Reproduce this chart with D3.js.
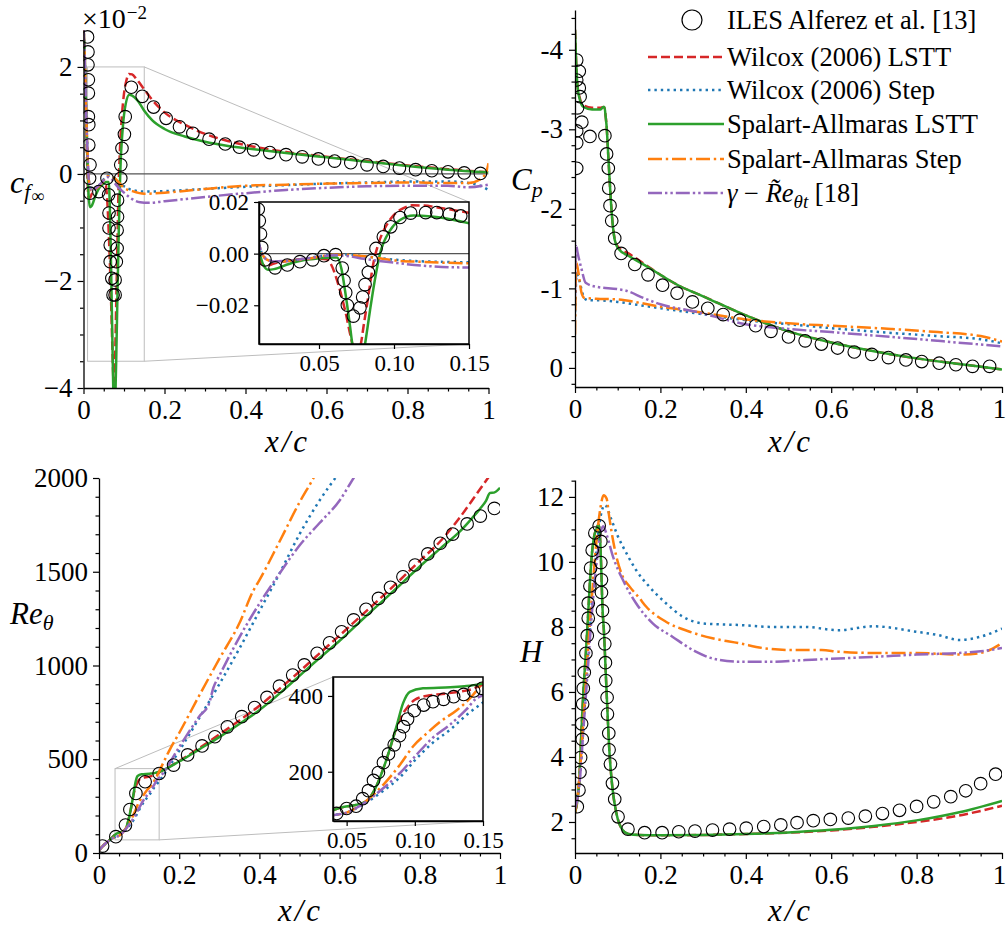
<!DOCTYPE html>
<html><head><meta charset="utf-8">
<script src="https://cdn.jsdelivr.net/npm/d3@7"></script>
<style>
body{margin:0;background:#fff;}
svg, svg text{font-family:"Liberation Serif","Times New Roman",serif;}
</style></head><body>
<svg id="c" width="1008" height="932"></svg>
<script>
// ---------------- DATA ----------------
const xTicks = [0, 0.2, 0.4, 0.6, 0.8, 1];
const cfTicks = [-4, -2, 0, 2];
const cpTicks = [-4, -3, -2, -1, 0];
const reTicks = [0, 500, 1000, 1500, 2000];
const hTicks = [2, 4, 6, 8, 10, 12];
const insetXTicks = [0.05, 0.10, 0.15];
const cfInsetTicks = [2, 0, -2];
const reInsetTicks = [200, 400];

const legendLabels = ["ILES Alferez et al. [13]", "Wilcox (2006) LSTT", "Wilcox (2006) Step",
  "Spalart-Allmaras LSTT", "Spalart-Allmaras Step", "γ − R̃e_θt [18]"];

// skin friction (x 1e-2)
const cfIlesMain = [[0.010,2.56],[0.011,2.28],[0.011,2.04],[0.012,1.76],[0.012,1.51],[0.012,1.07],[0.013,0.92],[0.013,0.54],[0.016,0.17],[0.015,-0.08],[0.016,-0.36],[0.038,-0.33],[0.058,-0.08],[0.062,-0.39],[0.063,-0.73],[0.063,-1.01],[0.066,-1.33],[0.066,-1.64],[0.070,-1.95],[0.073,-2.26],[0.078,-2.26],[0.078,-1.98],[0.081,-1.64],[0.083,-1.39],[0.083,-1.05],[0.084,-0.8],[0.084,-0.49],[0.092,-0.08],[0.092,0.17],[0.095,0.48],[0.101,0.74],[0.103,1.07],[0.118,1.62],[0.145,1.45],[0.173,1.25],[0.204,1.04],[0.237,0.88],[0.27,0.76],[0.31,0.65],[0.35,0.56],[0.385,0.5],[0.42,0.45],[0.46,0.4],[0.5,0.36],[0.54,0.32],[0.58,0.28],[0.62,0.24],[0.66,0.21],[0.7,0.17],[0.74,0.14],[0.78,0.11],[0.82,0.08],[0.86,0.06],[0.9,0.04],[0.94,0.02],[0.98,0.01]];
const cfIlesInset = [[0.0095,1.72],[0.0102,1.27],[0.011,0.76],[0.0118,0.24],[0.014,-0.24],[0.0207,-0.55],[0.0289,-0.44],[0.0373,-0.31],[0.0458,-0.24],[0.0533,-0.08],[0.0611,-0.04],[0.0655,-0.56],[0.0667,-1.04],[0.0678,-1.51],[0.0689,-2.0],[0.0729,-2.42],[0.0773,-2.1],[0.0791,-1.68],[0.0807,-1.2],[0.0829,-0.72],[0.0851,-0.27],[0.088,0.2],[0.0929,0.65],[0.0978,1.04],[0.104,1.4],[0.1111,1.57],[0.1211,1.59],[0.1285,1.59],[0.1369,1.53],[0.1445,1.46]];
const cfWilcoxLSTT = [[0,2.75],[0.003,2.2],[0.006,1.2],[0.009,0.2],[0.011,-0.3],[0.013,-0.45],[0.016,-0.45],[0.02,-0.38],[0.03,-0.28],[0.04,-0.21],[0.05,-0.2],[0.055,-0.22],[0.057,-0.32],[0.0633,-1.28],[0.0678,-2.3],[0.0711,-3.2],[0.0745,-3.9],[0.0775,-3.6],[0.08,-2.7],[0.083,-1.6],[0.086,-0.45],[0.09,0.45],[0.095,1.1],[0.1,1.5],[0.106,1.75],[0.112,1.87],[0.12,1.86],[0.13,1.78],[0.15,1.58],[0.17,1.38],[0.2,1.15],[0.25,0.92],[0.3,0.75],[0.35,0.63],[0.4,0.54],[0.5,0.41],[0.6,0.32],[0.7,0.24],[0.8,0.16],[0.9,0.09],[1.0,0.03]];
const cfWilcoxStep = [[0,2.75],[0.003,2.2],[0.006,1.3],[0.009,0.6],[0.012,0.0],[0.015,-0.2],[0.02,-0.3],[0.03,-0.28],[0.04,-0.2],[0.05,-0.1],[0.06,-0.03],[0.07,-0.04],[0.08,-0.1],[0.09,-0.17],[0.1,-0.23],[0.12,-0.3],[0.15,-0.33],[0.2,-0.32],[0.3,-0.28],[0.4,-0.24],[0.5,-0.21],[0.6,-0.18],[0.7,-0.16],[0.8,-0.14],[0.9,-0.14],[0.95,-0.17],[0.98,-0.22],[1.0,-0.3]];
const cfSALSTT = [[0,2.75],[0.003,2.2],[0.006,1.3],[0.009,0.4],[0.011,-0.1],[0.013,-0.45],[0.016,-0.62],[0.02,-0.6],[0.03,-0.4],[0.04,-0.25],[0.05,-0.18],[0.057,-0.15],[0.062,-0.15],[0.065,-0.6],[0.0673,-1.41],[0.0707,-2.82],[0.0722,-3.5],[0.075,-4.4],[0.0775,-4.5],[0.0795,-3.9],[0.0807,-3.5],[0.084,-2.2],[0.087,-1.1],[0.0907,0],[0.0973,0.89],[0.104,1.3],[0.113,1.48],[0.125,1.44],[0.135,1.36],[0.15,1.18],[0.17,1.0],[0.2,0.84],[0.25,0.7],[0.3,0.6],[0.35,0.53],[0.4,0.48],[0.5,0.39],[0.6,0.31],[0.7,0.23],[0.8,0.15],[0.9,0.08],[1.0,0.03]];
const cfSAStep = [[0,2.75],[0.003,2.2],[0.006,1.3],[0.009,0.6],[0.012,0.0],[0.015,-0.22],[0.02,-0.31],[0.03,-0.28],[0.04,-0.22],[0.05,-0.12],[0.06,-0.04],[0.07,-0.05],[0.08,-0.1],[0.09,-0.18],[0.1,-0.26],[0.12,-0.32],[0.15,-0.37],[0.2,-0.35],[0.3,-0.28],[0.4,-0.22],[0.5,-0.2],[0.6,-0.18],[0.7,-0.17],[0.8,-0.16],[0.9,-0.17],[0.95,-0.17],[0.98,-0.1],[0.995,0.05],[1.0,0.2]];
const cfGammaRe = [[0,2.75],[0.003,2.2],[0.006,1.3],[0.009,0.6],[0.012,0.0],[0.015,-0.22],[0.02,-0.3],[0.03,-0.27],[0.04,-0.2],[0.05,-0.12],[0.06,-0.06],[0.07,-0.1],[0.08,-0.2],[0.09,-0.28],[0.1,-0.35],[0.12,-0.47],[0.14,-0.53],[0.16,-0.54],[0.2,-0.51],[0.3,-0.43],[0.4,-0.36],[0.5,-0.3],[0.6,-0.26],[0.7,-0.23],[0.8,-0.22],[0.9,-0.22],[0.95,-0.25],[1.0,-0.2]];

// pressure coefficient
const cpIles = [[0.004,-3.87],[0.01,-3.73],[0.004,-3.62],[0.01,-3.52],[0.012,-3.41],[0.006,-3.27],[0.016,-3.09],[0.004,-2.98],[0.004,-2.83],[0.004,-2.51],[0.035,-2.91],[0.07,-2.92],[0.074,-2.69],[0.078,-2.51],[0.079,-2.26],[0.082,-2.04],[0.086,-1.85],[0.093,-1.63],[0.108,-1.44],[0.14,-1.3],[0.171,-1.17],[0.205,-1.04],[0.239,-0.94],[0.275,-0.83],[0.311,-0.75],[0.347,-0.67],[0.386,-0.6],[0.423,-0.53],[0.459,-0.46],[0.5,-0.39],[0.539,-0.34],[0.577,-0.3],[0.615,-0.25],[0.654,-0.2],[0.695,-0.17],[0.734,-0.13],[0.775,-0.1],[0.812,-0.08],[0.853,-0.06],[0.892,-0.04],[0.931,-0.02],[0.971,-0.02]];
const cpWilcoxLSTT = [[0,-4.25],[0.002,-3.95],[0.005,-3.6],[0.01,-3.42],[0.02,-3.3],[0.04,-3.27],[0.06,-3.27],[0.066,-3.28],[0.069,-3.27],[0.072,-3.15],[0.074,-3.04],[0.078,-2.66],[0.082,-2.28],[0.086,-1.95],[0.093,-1.62],[0.101,-1.52],[0.128,-1.43],[0.167,-1.29],[0.206,-1.15],[0.245,-1.03],[0.3,-0.9],[0.4,-0.66],[0.5,-0.46],[0.6,-0.32],[0.7,-0.21],[0.8,-0.12],[0.9,-0.05],[1.0,0.02]];
const cpWilcoxStep = [[0,-0.7],[0.004,-1.18],[0.01,-1.1],[0.02,-0.9],[0.03,-0.85],[0.05,-0.85],[0.1,-0.83],[0.15,-0.79],[0.2,-0.75],[0.28,-0.69],[0.4,-0.6],[0.5,-0.55],[0.6,-0.5],[0.74,-0.44],[0.85,-0.4],[0.95,-0.36],[1.0,-0.31]];
const cpSALSTT = [[0,-4.25],[0.002,-3.95],[0.005,-3.6],[0.01,-3.4],[0.02,-3.28],[0.04,-3.25],[0.06,-3.25],[0.066,-3.28],[0.069,-3.28],[0.072,-3.15],[0.074,-3.04],[0.078,-2.66],[0.082,-2.28],[0.086,-1.95],[0.093,-1.61],[0.101,-1.5],[0.128,-1.4],[0.167,-1.28],[0.206,-1.15],[0.245,-1.03],[0.3,-0.9],[0.4,-0.66],[0.5,-0.46],[0.6,-0.32],[0.7,-0.21],[0.8,-0.12],[0.9,-0.05],[1.0,0.02]];
const cpSAStep = [[0,-0.42],[0.003,-1.33],[0.008,-1.2],[0.015,-0.95],[0.022,-0.88],[0.05,-0.87],[0.1,-0.86],[0.15,-0.82],[0.2,-0.77],[0.28,-0.71],[0.4,-0.61],[0.5,-0.56],[0.6,-0.53],[0.74,-0.49],[0.85,-0.45],[0.95,-0.4],[1.0,-0.33]];
const cpGammaRe = [[0,-0.9],[0.002,-1.56],[0.006,-1.45],[0.015,-1.25],[0.025,-1.07],[0.05,-1.02],[0.1,-0.99],[0.12,-0.97],[0.16,-0.88],[0.2,-0.8],[0.28,-0.71],[0.4,-0.55],[0.5,-0.49],[0.6,-0.45],[0.74,-0.39],[0.85,-0.34],[1.0,-0.27]];

// momentum-thickness Reynolds number
const reIlesMain = [[0.009,37],[0.042,87],[0.066,149],[0.077,232],[0.092,318],[0.115,380],[0.15,424],[0.186,469],[0.221,523],[0.257,571],[0.289,620],[0.32,673],[0.356,727],[0.388,776],[0.419,830],[0.45,890],[0.483,949],[0.512,1003],[0.544,1065],[0.575,1121],[0.605,1180],[0.635,1243],[0.666,1300],[0.697,1358],[0.727,1417],[0.758,1473],[0.788,1536],[0.82,1595],[0.851,1652],[0.882,1701],[0.918,1755],[0.951,1797],[0.986,1838]];
const reIlesInset = [[0.0427,90],[0.05,103],[0.0569,109],[0.0618,129],[0.066,150],[0.0697,177],[0.0733,198],[0.077,224],[0.0807,247],[0.0849,271],[0.0888,295],[0.0917,319],[0.0947,339],[0.0996,361],[0.1065,376],[0.1133,385],[0.1211,391],[0.1285,398],[0.1358,404],[0.1432,413],[0.1494,420]];
const reWilcoxLSTT = [[0,15],[0.01,38],[0.02,57],[0.03,76],[0.04,98],[0.0645,122],[0.0706,153],[0.0792,232],[0.0865,315],[0.09,345],[0.095,372],[0.1,390],[0.11,401],[0.12,405],[0.13,410],[0.14,416],[0.15,430],[0.2,490],[0.25,560],[0.3,632],[0.35,707],[0.4,785],[0.45,875],[0.5,968],[0.55,1065],[0.6,1160],[0.65,1258],[0.7,1355],[0.75,1455],[0.8,1558],[0.85,1660],[0.9,1790],[0.95,1940],[1.0,2090]];
const reWilcoxStep = [[0,15],[0.01,38],[0.02,57],[0.03,73],[0.04,85],[0.05,92],[0.064,118],[0.077,150],[0.089,185],[0.1,230],[0.113,276],[0.126,311],[0.138,350],[0.15,383],[0.2,545],[0.25,720],[0.3,900],[0.35,1090],[0.4,1290],[0.45,1490],[0.5,1700],[0.55,1880],[0.6,2030]];
const reSALSTT = [[0,15],[0.01,38],[0.02,57],[0.03,76],[0.04,98],[0.0645,122],[0.0706,153],[0.0792,232],[0.0865,319],[0.0914,381],[0.0963,411],[0.106,420],[0.126,423],[0.138,426],[0.15,433],[0.2,488],[0.25,553],[0.3,618],[0.35,688],[0.4,762],[0.45,850],[0.5,945],[0.55,1040],[0.6,1132],[0.65,1232],[0.7,1330],[0.75,1428],[0.8,1528],[0.85,1622],[0.9,1715],[0.93,1785],[0.95,1835],[0.965,1878],[0.975,1920],[0.985,1922],[1.0,1948]];
const reSAStep = [[0,15],[0.01,38],[0.02,57],[0.03,73],[0.04,85],[0.05,92],[0.064,122],[0.077,166],[0.089,218],[0.099,268],[0.109,302],[0.119,333],[0.131,363],[0.14,392],[0.15,435],[0.175,545],[0.2,640],[0.25,840],[0.3,1035],[0.35,1225],[0.385,1400],[0.4,1455],[0.45,1660],[0.5,1870],[0.535,2000],[0.55,2060]];
const reGammaRe = [[0,15],[0.01,38],[0.02,57],[0.03,73],[0.04,85],[0.05,92],[0.064,120],[0.077,157],[0.089,196],[0.1,240],[0.113,289],[0.126,325],[0.138,365],[0.145,393],[0.15,402],[0.2,565],[0.25,728],[0.275,800],[0.285,880],[0.3,945],[0.35,1150],[0.4,1330],[0.45,1490],[0.5,1640],[0.55,1760],[0.6,1880],[0.635,2000],[0.65,2050]];

// shape factor
const hIles = [[0.0054,2.47],[0.0093,2.98],[0.0116,3.53],[0.0132,3.98],[0.017,4.54],[0.0155,5.02],[0.0179,5.63],[0.0194,6.11],[0.0217,6.6],[0.0256,7.19],[0.0287,7.73],[0.031,8.27],[0.031,8.73],[0.0349,9.26],[0.0365,9.81],[0.0403,10.36],[0.0465,10.89],[0.0566,11.11],[0.0605,10.63],[0.0605,9.98],[0.062,9.45],[0.062,9.06],[0.0644,8.5],[0.0674,7.96],[0.0698,7.48],[0.0713,6.9],[0.072,6.35],[0.0752,5.83],[0.076,5.32],[0.0791,4.73],[0.0798,4.22],[0.083,3.78],[0.0877,3.19],[0.093,2.7],[0.1008,2.16],[0.124,1.78],[0.163,1.67],[0.204,1.67],[0.243,1.7],[0.281,1.72],[0.322,1.75],[0.362,1.78],[0.401,1.81],[0.442,1.86],[0.482,1.91],[0.52,1.98],[0.558,2.04],[0.598,2.08],[0.64,2.12],[0.68,2.18],[0.72,2.26],[0.76,2.36],[0.8,2.48],[0.84,2.62],[0.88,2.78],[0.915,2.96],[0.95,3.18],[0.985,3.47]];
const hWilcoxLSTT = [[0,2.3],[0.005,2.6],[0.01,3.3],[0.015,4.8],[0.02,6.1],[0.025,7.1],[0.03,8.2],[0.035,9.4],[0.04,10.3],[0.045,10.8],[0.05,11.0],[0.055,11.15],[0.058,10.9],[0.061,10.0],[0.064,8.7],[0.068,7.8],[0.072,6.6],[0.076,5.4],[0.08,4.3],[0.085,3.4],[0.09,2.8],[0.095,2.4],[0.1,2.1],[0.11,1.78],[0.125,1.63],[0.15,1.6],[0.2,1.59],[0.3,1.6],[0.4,1.63],[0.5,1.67],[0.6,1.74],[0.7,1.85],[0.8,2.0],[0.9,2.2],[1.0,2.5]];
const hWilcoxStep = [[0,2.4],[0.01,3.2],[0.02,5.0],[0.03,7.0],[0.04,8.8],[0.05,10.3],[0.06,11.4],[0.07,11.75],[0.085,11.31],[0.1,10.8],[0.12,10.28],[0.143,9.75],[0.174,9.24],[0.213,8.73],[0.252,8.32],[0.306,8.1],[0.384,8.06],[0.461,8.0],[0.539,8.0],[0.616,7.9],[0.7,8.02],[0.8,7.85],[0.85,7.75],[0.9,7.6],[0.95,7.7],[1.0,7.95]];
const hSALSTT = [[0,2.3],[0.005,2.6],[0.01,3.3],[0.015,4.8],[0.02,6.1],[0.025,7.1],[0.03,8.2],[0.035,9.4],[0.04,10.3],[0.045,10.8],[0.05,11.0],[0.055,11.15],[0.058,10.9],[0.061,10.0],[0.064,8.7],[0.068,7.8],[0.072,6.6],[0.076,5.4],[0.08,4.3],[0.085,3.4],[0.09,2.8],[0.095,2.4],[0.1,2.1],[0.11,1.78],[0.125,1.63],[0.15,1.6],[0.2,1.59],[0.3,1.6],[0.4,1.63],[0.5,1.68],[0.6,1.76],[0.7,1.88],[0.8,2.05],[0.9,2.3],[1.0,2.65]];
const hSAStep = [[0,2.3],[0.005,2.7],[0.01,3.3],[0.02,5.2],[0.03,7.2],[0.04,9.0],[0.05,10.6],[0.06,11.7],[0.067,12.05],[0.074,11.95],[0.08,11.4],[0.09,10.6],[0.097,10.16],[0.11,9.6],[0.128,9.24],[0.15,8.9],[0.167,8.62],[0.213,8.16],[0.267,7.86],[0.322,7.65],[0.384,7.5],[0.446,7.34],[0.508,7.29],[0.578,7.29],[0.616,7.24],[0.7,7.2],[0.8,7.2],[0.9,7.15],[0.95,7.2],[1.0,7.5]];
const hGammaRe = [[0,2.4],[0.01,3.1],[0.02,4.9],[0.03,6.7],[0.04,8.5],[0.05,9.9],[0.06,10.9],[0.066,11.1],[0.075,10.8],[0.089,10.16],[0.112,9.45],[0.143,8.73],[0.182,8.11],[0.228,7.7],[0.283,7.24],[0.322,7.03],[0.384,6.93],[0.461,6.93],[0.539,6.98],[0.616,7.03],[0.7,7.08],[0.8,7.15],[0.9,7.2],[0.95,7.25],[1.0,7.35]];

// ---------------- STYLES ----------------
const FONT = '"Liberation Serif", "Times New Roman", serif';
const SER = {
  wL:  {c:"#d62728", d:"9,4"},
  wS:  {c:"#1f77b4", d:"2.4,4"},
  saL: {c:"#2ca02c", d:null},
  saS: {c:"#ff7f0e", d:"14,3.8,2.4,3.8"},
  gR:  {c:"#9467bd", d:"14,3,2.4,3,2.4,3"}
};
const LW = 2.5, MR = 6.3, TFS = 27;

const svg = d3.select("#c");
const defs = svg.append("defs");
function clip(id, xs, ys){
  const [x0,x1] = d3.extent(xs.range()), [y0,y1] = d3.extent(ys.range());
  defs.append("clipPath").attr("id",id).append("rect").attr("x",x0).attr("y",y0).attr("width",x1-x0).attr("height",y1-y0);
  return `url(#${id})`;
}
function models(g, xs, ys, sets){
  const line = d3.line().x(d=>xs(d[0])).y(d=>ys(d[1])).curve(d3.curveMonotoneX);
  sets.forEach(([data,key])=>{
    const s = SER[key];
    g.append("path").datum(data).attr("d",line).attr("fill","none").attr("stroke",s.c)
      .attr("stroke-width",LW).attr("stroke-dasharray",s.d);
  });
}
function circles(g, xs, ys, data){
  g.selectAll(null).data(data).join("circle").attr("cx",d=>xs(d[0])).attr("cy",d=>ys(d[1]))
    .attr("r",MR).attr("fill","none").attr("stroke","#000").attr("stroke-width",1.1);
}
function styleAxis(sel, fs, sw){
  sel.attr("font-size",null).attr("font-family",FONT);
  sel.selectAll(".domain").attr("stroke","#000").attr("stroke-width",sw);
  sel.selectAll(".tick line").attr("stroke","#000").attr("stroke-width",1.2);
  sel.selectAll(".tick text").attr("font-size",fs).attr("fill","#000").attr("font-family",FONT);
}
function axes(g, xs, ys, o){
  const yb = d3.max(ys.range()), xl = d3.min(xs.range());
  const fs = o.fs || TFS, tl = o.tl || 6, tm = 3.5, sw = o.sw || 1.3;
  if (o.xMin) g.append("g").attr("transform",`translate(0,${yb})`)
      .call(d3.axisBottom(xs).tickValues(o.xMin).tickFormat("").tickSize(tm).tickSizeOuter(0))
      .call(s=>styleAxis(s,fs,sw)).select(".domain").remove();
  const gx = g.append("g").attr("transform",`translate(0,${yb})`)
      .call(d3.axisBottom(xs).tickValues(o.xMaj).tickFormat(o.xFmt).tickSize(tl).tickSizeOuter(0).tickPadding(o.xPad||6))
      .call(s=>styleAxis(s,fs,sw));
  if (o.lastDx) gx.selectAll(".tick text").filter(d=>d===1).attr("dx",o.lastDx);
  if (o.yMin) g.append("g").attr("transform",`translate(${xl},0)`)
      .call(d3.axisLeft(ys).tickValues(o.yMin).tickFormat("").tickSize(tm).tickSizeOuter(0))
      .call(s=>styleAxis(s,fs,sw)).select(".domain").remove();
  g.append("g").attr("transform",`translate(${xl},0)`)
      .call(d3.axisLeft(ys).tickValues(o.yMaj).tickFormat(o.yFmt).tickSize(tl).tickSizeOuter(0).tickPadding(o.yPad||5))
      .call(s=>styleAxis(s,fs,sw));
}
const fmtX = d => d===0 ? "0" : d===1 ? "1" : d.toFixed(1);
const fmtMinus = d => d<0 ? "\u2212"+(-d) : String(d);
const minor = (a,b,step,maj) => d3.range(Math.round(a/step), Math.round(b/step)+1).map(i=>+(i*step).toFixed(6)).filter(v=>!maj.some(m=>Math.abs(m-v)<1e-9));

function xcLabel(cx, y){
  const t = svg.append("text").attr("x",cx).attr("y",y).attr("text-anchor","middle")
    .attr("font-size",31).attr("font-style","italic").attr("font-family",FONT);
  t.append("tspan").text("x");
  t.append("tspan").attr("dx",3).text("/");
  t.append("tspan").attr("dx",3).text("c");
}
function zoomBox(g, xs, ys, x0,x1,y0,y1){
  g.append("rect").attr("x",xs(x0)).attr("y",ys(y1)).attr("width",xs(x1)-xs(x0)).attr("height",ys(y0)-ys(y1))
    .attr("fill","none").attr("stroke","#bdbdbd").attr("stroke-width",1);
}
function connector(g, p, q){
  g.append("line").attr("x1",p[0]).attr("y1",p[1]).attr("x2",q[0]).attr("y2",q[1]).attr("stroke","#bdbdbd").attr("stroke-width",1);
}

// ---------------- PANEL 1: cf ----------------
{
  const xs = d3.scaleLinear().domain([0,1]).range([83.5,488.5]);
  const ys = d3.scaleLinear().domain([-4,2.69]).range([388,30]);
  const g = svg.append("g");
  zoomBox(g, xs, ys, 0.01, 0.15, -3.5, 2);
  const xi = d3.scaleLinear().domain([0.01,0.15]).range([259,469]);
  const yi = d3.scaleLinear().domain([-3.5,2]).range([344,202]);
  connector(g, [xs(0.15), ys(2)], [xi(0.15), yi(2)]);
  connector(g, [xs(0.15), ys(-3.5)], [xi(0.15), yi(-3.5)]);
  const gp = g.append("g").attr("clip-path", clip("cl1", xs, ys));
  gp.append("line").attr("x1",xs(0)).attr("x2",xs(1)).attr("y1",ys(0)).attr("y2",ys(0)).attr("stroke","#555").attr("stroke-width",1.3);
  models(gp, xs, ys, [[cfWilcoxLSTT,"wL"],[cfWilcoxStep,"wS"],[cfSALSTT,"saL"],[cfSAStep,"saS"],[cfGammaRe,"gR"]]);
  circles(gp, xs, ys, cfIlesMain);
  axes(g, xs, ys, {xMaj:xTicks, xFmt:fmtX, xMin:minor(0,1,0.05,xTicks),
                   yMaj:cfTicks, yFmt:fmtMinus, yMin:minor(-4,2.5,0.5,cfTicks)});
  // inset
  const gi = svg.append("g");
  gi.append("rect").attr("x",259).attr("y",202).attr("width",210).attr("height",142).attr("fill","#fff");
  const gip = gi.append("g").attr("clip-path", clip("cl1i", xi, yi));
  gip.append("line").attr("x1",xi(0.01)).attr("x2",xi(0.15)).attr("y1",yi(0)).attr("y2",yi(0)).attr("stroke","#555").attr("stroke-width",1.3);
  models(gip, xi, yi, [[cfWilcoxLSTT,"wL"],[cfWilcoxStep,"wS"],[cfSALSTT,"saL"],[cfSAStep,"saS"],[cfGammaRe,"gR"]]);
  circles(gip, xi, yi, cfIlesInset);
  axes(gi, xi, yi, {fs:23, tl:5, sw:1.5, xMaj:insetXTicks, xFmt:d=>d.toFixed(2), xPad:6,
                    yMaj:cfInsetTicks, yFmt:d=>(d<0?"\u2212":"")+Math.abs(d/100).toFixed(2), yPad:5});
  gi.append("rect").attr("x",259).attr("y",202).attr("width",210).attr("height",142).attr("fill","none").attr("stroke","#000").attr("stroke-width",1.5);
  // labels
  const t = svg.append("text").attr("x",82).attr("y",28).attr("font-size",28).attr("font-family",FONT);
  t.append("tspan").text("×10");
  t.append("tspan").attr("dx",1).attr("dy",-9).attr("font-size",19).text("\u22122");
  const yl = svg.append("text").attr("x",10).attr("y",193).attr("font-style","italic").attr("font-size",32).attr("font-family",FONT);
  yl.append("tspan").text("c");
  yl.append("tspan").attr("dy",6).attr("font-size",22).text("f");
  yl.append("tspan").attr("dx",1).attr("dy",3).attr("font-size",18).attr("font-style","normal").text("∞");
  xcLabel(286, 452);
}

// ---------------- PANEL 2: Cp ----------------
{
  const xs = d3.scaleLinear().domain([0,1]).range([575,1002]);
  const ys = d3.scaleLinear().domain([0.24,-4.5]).range([387,10]);
  const g = svg.append("g");
  const gp = g.append("g").attr("clip-path", clip("cl2", xs, ys));
  models(gp, xs, ys, [[cpWilcoxLSTT,"wL"],[cpWilcoxStep,"wS"],[cpSALSTT,"saL"],[cpSAStep,"saS"],[cpGammaRe,"gR"]]);
  circles(gp, xs, ys, cpIles);
  axes(g, xs, ys, {xMaj:xTicks, xFmt:fmtX, xMin:minor(0,1,0.05,xTicks), lastDx:-3,
                   yMaj:cpTicks, yFmt:d=>String(d), yMin:minor(-4.4,0.2,0.2,cpTicks), yPad:6});
  const yl = svg.append("text").attr("x",511).attr("y",190).attr("font-style","italic").attr("font-size",31).attr("font-family",FONT);
  yl.append("tspan").text("C");
  yl.append("tspan").attr("dy",7).attr("font-size",22).text("p");
  xcLabel(789, 452);
  // legend
  const lg = svg.append("g");
  const rows = [20, 57, 90, 124, 159, 193];
  const keys = [null,"wL","wS","saL","saS","gR"];
  rows.forEach((y,i)=>{
    if (i===0) lg.append("circle").attr("cx",692).attr("cy",y).attr("r",10).attr("fill","none").attr("stroke","#000").attr("stroke-width",1.2);
    else lg.append("line").attr("x1",648).attr("x2",724).attr("y1",y).attr("y2",y).attr("stroke",SER[keys[i]].c)
          .attr("stroke-width",LW).attr("stroke-dasharray",SER[keys[i]].d);
    const t = lg.append("text").attr("x",727).attr("y",y+9).attr("font-size",26.5).attr("font-family",FONT);
    if (i<5) t.text(legendLabels[i]);
    else {
      t.append("tspan").attr("font-style","italic").text("γ");
      t.append("tspan").text(" − ");
      t.append("tspan").attr("font-style","italic").text("R\u0303e");
      t.append("tspan").attr("font-style","italic").attr("font-size",19).attr("dy",6).text("θt");
      t.append("tspan").attr("dy",-6).text(" [18]");
    }
  });
}

// ---------------- PANEL 3: Re_theta ----------------
{
  const xs = d3.scaleLinear().domain([0,1]).range([99,500]);
  const ys = d3.scaleLinear().domain([0,2000]).range([853,478]);
  const g = svg.append("g");
  zoomBox(g, xs, ys, 0.04, 0.15, 70, 450);
  const xi = d3.scaleLinear().domain([0.04,0.15]).range([333,483]);
  const yi = d3.scaleLinear().domain([70,450]).range([821,677]);
  connector(g, [xs(0.04), ys(450)], [xi(0.04), yi(450)]);
  connector(g, [xs(0.15), ys(70)], [xi(0.15), yi(70)]);
  const gp = g.append("g").attr("clip-path", clip("cl3", xs, ys));
  models(gp, xs, ys, [[reWilcoxLSTT,"wL"],[reWilcoxStep,"wS"],[reSALSTT,"saL"],[reSAStep,"saS"],[reGammaRe,"gR"]]);
  circles(gp, xs, ys, reIlesMain);
  axes(g, xs, ys, {xMaj:xTicks, xFmt:fmtX, xMin:minor(0,1,0.05,xTicks),
                   yMaj:reTicks, yFmt:d=>String(d), yMin:minor(0,2000,100,reTicks)});
  const gi = svg.append("g");
  gi.append("rect").attr("x",333).attr("y",677).attr("width",150).attr("height",144).attr("fill","#fff");
  const gip = gi.append("g").attr("clip-path", clip("cl3i", xi, yi));
  models(gip, xi, yi, [[reWilcoxLSTT,"wL"],[reWilcoxStep,"wS"],[reSALSTT,"saL"],[reSAStep,"saS"],[reGammaRe,"gR"]]);
  circles(gip, xi, yi, reIlesInset);
  axes(gi, xi, yi, {fs:23, tl:5, sw:1.5, xMaj:insetXTicks, xFmt:d=>d.toFixed(2), xPad:6,
                    yMaj:reInsetTicks, yFmt:d=>String(d), yPad:5});
  gi.append("rect").attr("x",333).attr("y",677).attr("width",150).attr("height",144).attr("fill","none").attr("stroke","#000").attr("stroke-width",1.5);
  const yl = svg.append("text").attr("x",10).attr("y",624).attr("font-style","italic").attr("font-size",31).attr("font-family",FONT);
  yl.append("tspan").text("Re");
  yl.append("tspan").attr("dy",6).attr("font-size",22).text("θ");
  xcLabel(299, 921);
}

// ---------------- PANEL 4: H ----------------
{
  const xs = d3.scaleLinear().domain([0,1]).range([575,1002]);
  const ys = d3.scaleLinear().domain([1.046,12.52]).range([853,480]);
  const g = svg.append("g");
  const gp = g.append("g").attr("clip-path", clip("cl4", xs, ys));
  models(gp, xs, ys, [[hWilcoxLSTT,"wL"],[hWilcoxStep,"wS"],[hSALSTT,"saL"],[hSAStep,"saS"],[hGammaRe,"gR"]]);
  circles(gp, xs, ys, hIles);
  axes(g, xs, ys, {xMaj:xTicks, xFmt:fmtX, xMin:minor(0,1,0.05,xTicks), lastDx:-3,
                   yMaj:hTicks, yFmt:d=>String(d), yMin:minor(1.5,12.5,0.5,hTicks)});
  svg.append("text").attr("x",520).attr("y",662).attr("font-style","italic").attr("font-size",31).attr("font-family",FONT).text("H");
  xcLabel(789, 921);
}
</script>
</body></html>
